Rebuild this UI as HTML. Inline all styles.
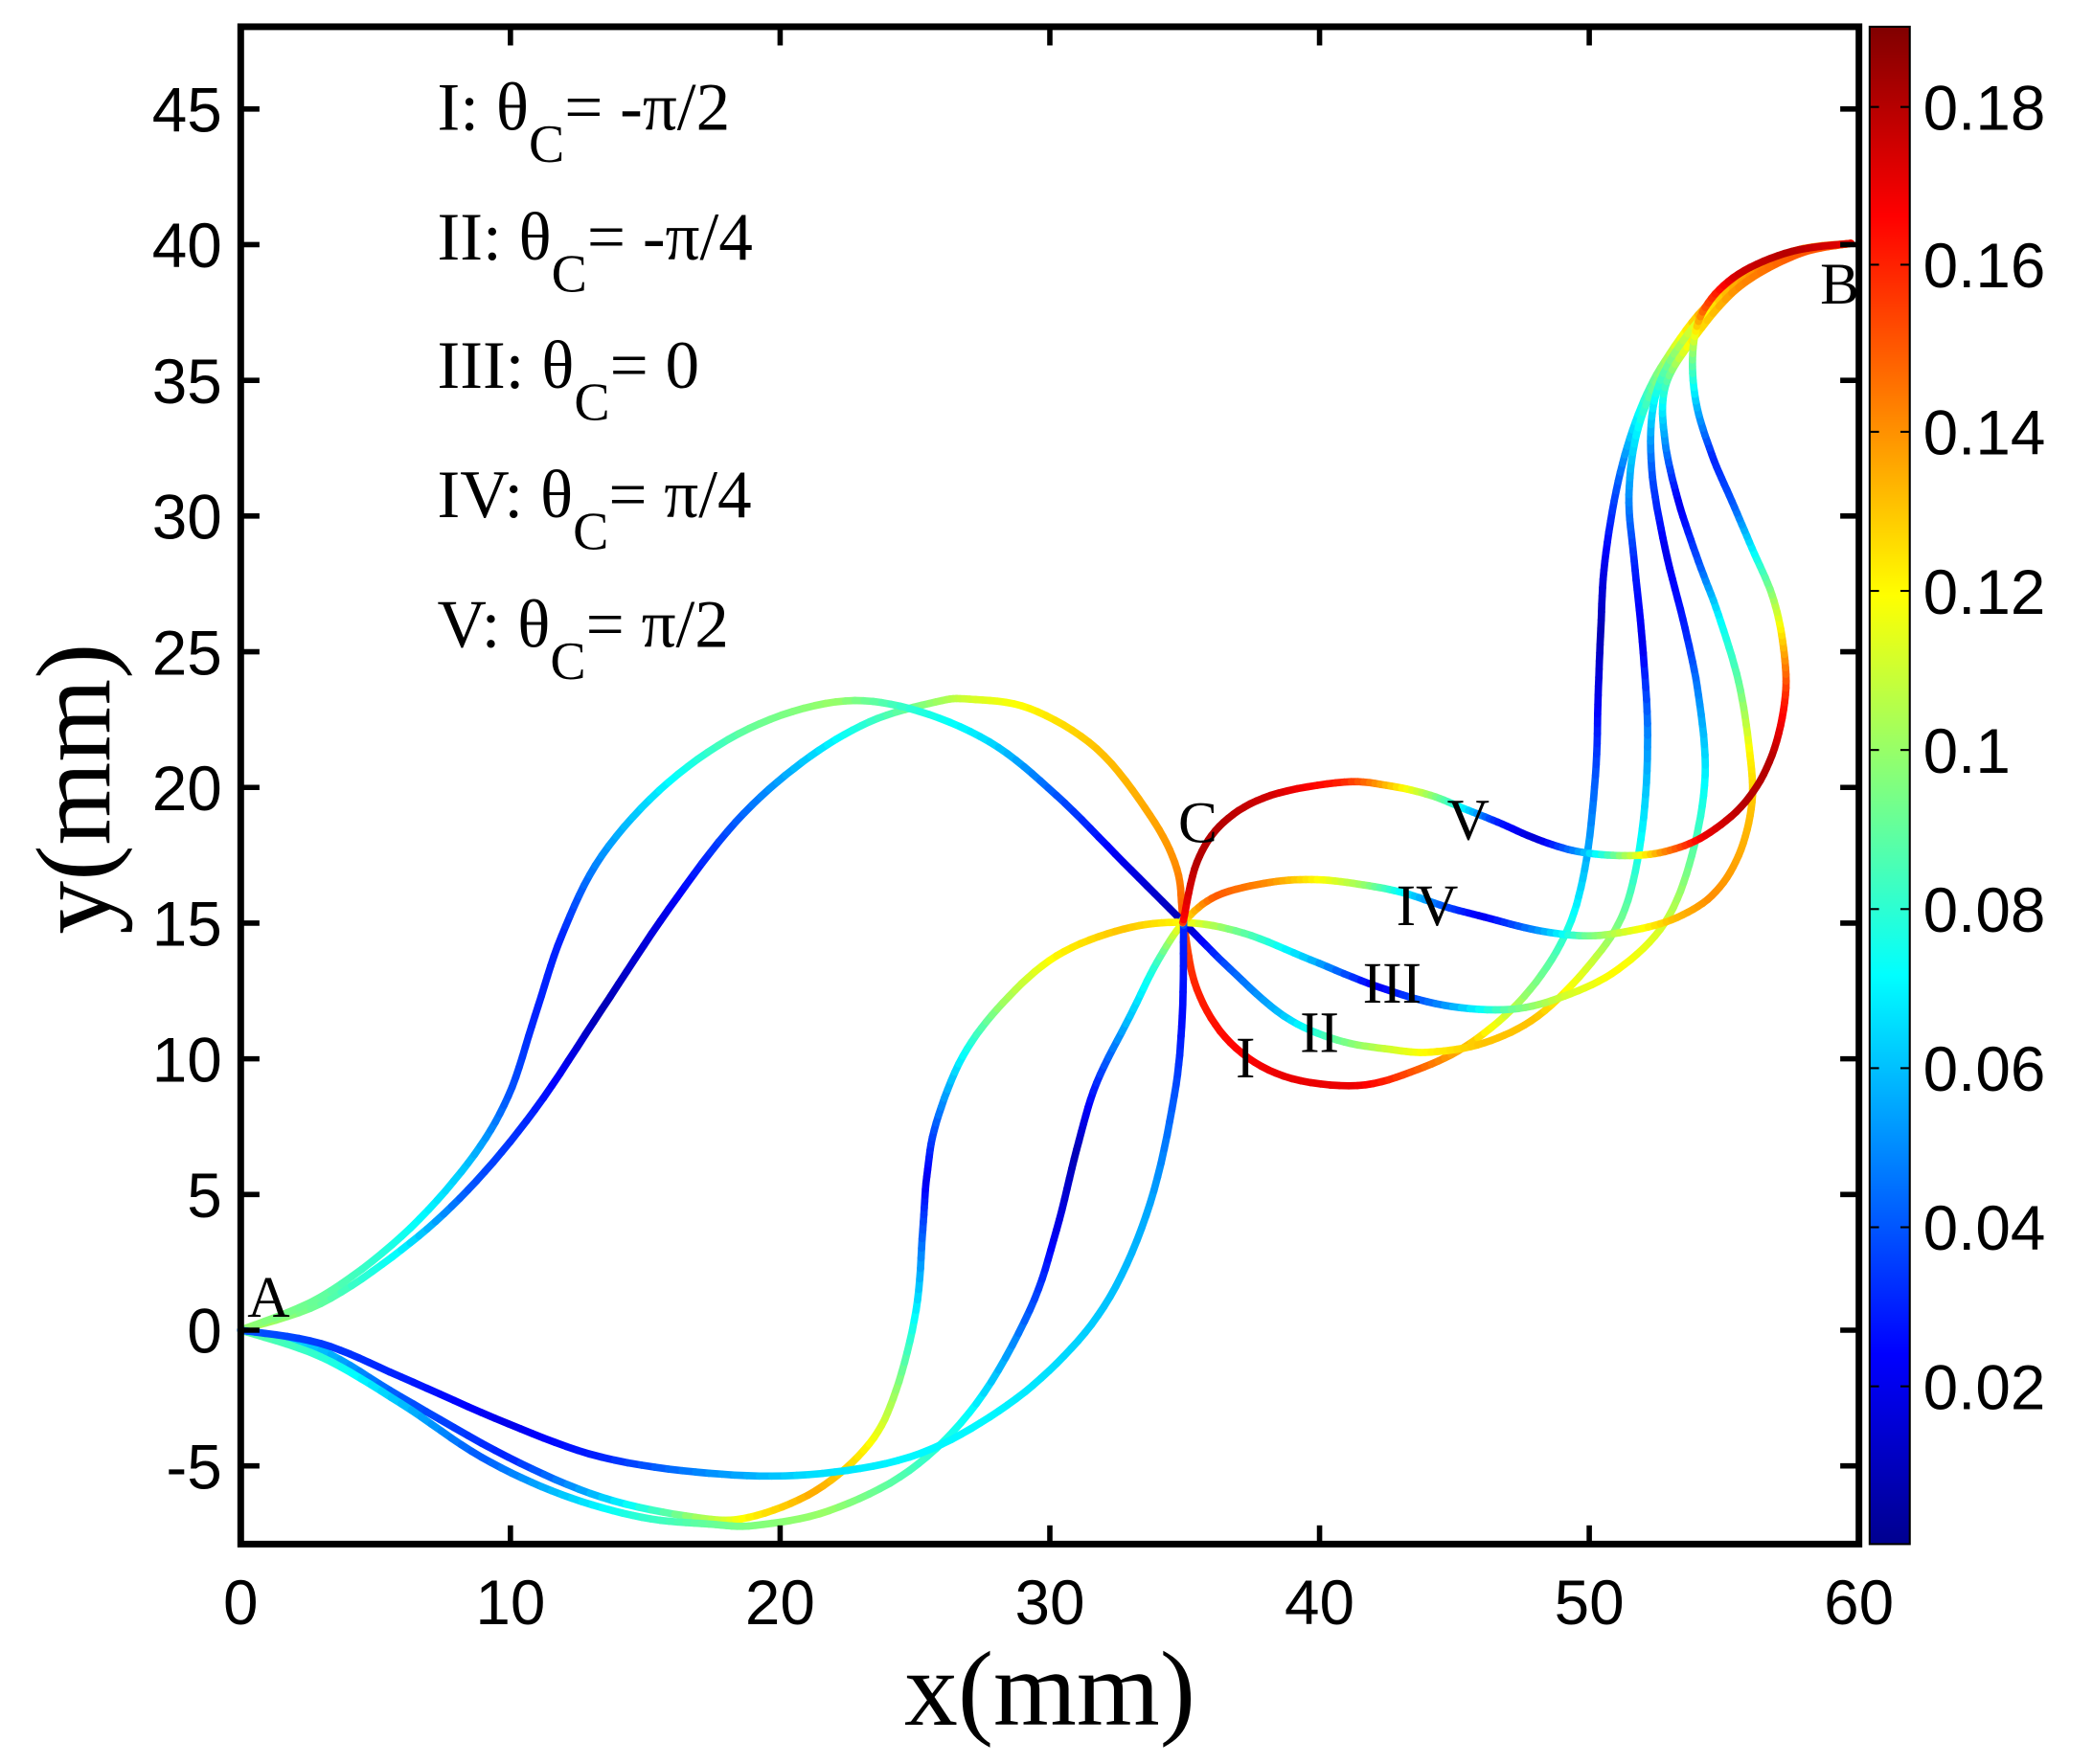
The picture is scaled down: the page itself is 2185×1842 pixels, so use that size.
<!DOCTYPE html>
<html><head><meta charset="utf-8"><style>
html,body{margin:0;padding:0;background:#fff;}
svg{display:block;}
.s{font-family:"Liberation Sans",sans-serif;font-size:47px;fill:#000;}
.r{font-family:"Liberation Serif",serif;fill:#000;}
</style></head><body>
<svg id="g" width="2185" height="1842" viewBox="0 0 1565 1319.5" preserveAspectRatio="none" xmlns="http://www.w3.org/2000/svg">
<defs>
<linearGradient id="jet" x1="0" y1="1" x2="0" y2="0">
<stop offset="0" stop-color="#00008f"/>
<stop offset="0.125" stop-color="#0000ff"/>
<stop offset="0.375" stop-color="#00ffff"/>
<stop offset="0.625" stop-color="#ffff00"/>
<stop offset="0.875" stop-color="#ff0000"/>
<stop offset="1" stop-color="#800000"/>
</linearGradient>
</defs>
<rect x="0" y="0" width="1565" height="1320" fill="#fff"/>
<g id="curves"></g>
<rect x="180" y="20" width="1210" height="1135" fill="none" stroke="#000" stroke-width="5"/>
<g id="ticks" stroke="#000" stroke-width="4"></g>
<rect x="1398" y="20" width="30" height="1135" fill="url(#jet)" stroke="#000" stroke-width="1.5"/>
<g id="cbt" stroke="#000" stroke-width="1.5"></g>
<g id="labels"></g>
<g class="r" font-size="51">
<text x="327" y="97">I: θ<tspan font-size="40" dy="24">C</tspan><tspan dy="-24">= -π/2</tspan></text>
<text x="327" y="194">II: θ<tspan font-size="40" dy="24">C</tspan><tspan dy="-24">= -π/4</tspan></text>
<text x="327" y="290">III: θ<tspan font-size="40" dy="24">C</tspan><tspan dy="-24">= 0</tspan></text>
<text x="327" y="387">IV: θ<tspan font-size="40" dy="24">C</tspan><tspan dy="-24">= π/4</tspan></text>
<text x="327" y="484">V: θ<tspan font-size="40" dy="24">C</tspan><tspan dy="-24">= π/2</tspan></text>
</g>
<g class="r" font-size="44">
<text x="185" y="985">A</text>
<text x="881" y="630">C</text>
<text x="1361" y="227">B</text>
<text x="1082" y="628">V</text>
<text x="1044" y="692">IV</text>
<text x="1019" y="750">III</text>
<text x="972" y="787">II</text>
<text x="924" y="806">I</text>
</g>
<text class="r" x="785" y="1290" font-size="80" text-anchor="middle">x(mm)</text>
<text class="r" transform="translate(82,590) rotate(-90)" font-size="80" text-anchor="middle">y(mm)</text>
</svg>
<script>
var NS="http://www.w3.org/2000/svg";
function el(p,t,a,txt){var e=document.createElementNS(NS,t);for(var k in a)e.setAttribute(k,a[k]);if(txt!==undefined)e.textContent=txt;p.appendChild(e);return e;}
function jet(t){t=Math.max(0,Math.min(1,t));function f(x){return Math.max(0,Math.min(1,1.5-Math.abs(4*t-x)));}
var r=f(3),g=f(2),b=f(1);return "rgb("+Math.round(r*255)+","+Math.round(g*255)+","+Math.round(b*255)+")";}
var X0=180,X1=1390,Y0=995,YS=20.3;
var tk=document.getElementById('ticks'),lb=document.getElementById('labels');
for(var v=0;v<=60;v+=10){var x=X0+(X1-X0)*v/60;
 el(tk,'line',{x1:x,y1:1155,x2:x,y2:1141});el(tk,'line',{x1:x,y1:20,x2:x,y2:34});
 el(lb,'text',{x:x,y:1215,'text-anchor':'middle','class':'s'},String(v));}
for(var v=-5;v<=45;v+=5){var y=Y0-YS*v;
 el(tk,'line',{x1:180,y1:y,x2:194,y2:y});el(tk,'line',{x1:1390,y1:y,x2:1376,y2:y});
 el(lb,'text',{x:166,y:y+17,'text-anchor':'end','class':'s'},String(v));}
var cb=document.getElementById('cbt');
var cbv=[[0.02,1037],[0.04,918],[0.06,799],[0.08,680],[0.1,561],[0.12,442],[0.14,323],[0.16,198],[0.18,80]];
cbv.forEach(function(c){el(cb,'line',{x1:1398,y1:c[1],x2:1405,y2:c[1]});el(cb,'line',{x1:1421,y1:c[1],x2:1428,y2:c[1]});
 el(lb,'text',{x:1438,y:c[1]+17,'class':'s'},String(c[0]));});
var C=[
[[180,995,.11],[240,975,.09],[300,935,.07],[350,890,.04],[400,830,.03],[450,755,.01],[500,680,.02],[550,615,.04],[600,570,.06],[650,540,.08],[700,525,.1],[725,523,.11],[770,530,.12],[820,560,.13],[860,610,.135],[880,650,.14],[885,690,.15],[895,740,.16],[920,780,.165],[960,805,.17],[1015,812,.17],[1060,800,.15],[1100,780,.13],[1140,745,.1],[1170,700,.08],[1185,650,.06],[1193,580,.04],[1195,520,.02],[1197,470,.01],[1200,420,.02],[1210,360,.04],[1225,310,.07],[1245,270,.1],[1280,225,.14],[1330,192,.15],[1384,182,.14]],
[[180,995,.1],[240,970,.09],[300,925,.075],[350,870,.06],[380,820,.04],[400,760,.03],[420,700,.03],[450,640,.05],[500,585,.07],[560,545,.09],[625,525,.1],[680,530,.08],[740,555,.065],[790,595,.04],[840,645,.02],[885,690,.01],[920,725,.04],[960,760,.06],[1000,778,.09],[1040,785,.11],[1070,787,.12],[1110,780,.13],[1150,760,.13],[1190,720,.11],[1215,680,.09],[1228,620,.07],[1232,550,.05],[1228,480,.02],[1222,420,.03],[1218,370,.05],[1225,320,.07],[1245,275,.1],[1285,225,.13],[1335,190,.14],[1384,182,.14]],
[[180,995,.07],[240,1010,.06],[300,1045,.04],[380,1090,.03],[450,1120,.06],[520,1135,.1],[560,1135,.12],[610,1115,.135],[650,1080,.12],[670,1040,.1],[685,980,.07],[690,920,.04],[693,880,.02],[700,840,.04],[720,790,.07],[750,750,.1],[790,715,.12],[840,695,.13],[885,690,.12],[930,698,.09],[980,718,.06],[1030,738,.02],[1080,752,.05],[1130,755,.09],[1170,745,.11],[1210,725,.12],[1245,690,.11],[1265,640,.09],[1275,580,.07],[1270,520,.05],[1260,470,.03],[1245,410,.02],[1235,350,.04],[1237,300,.07],[1255,260,.1],[1290,220,.13],[1340,190,.15],[1384,182,.15]],
[[180,995,.09],[240,1015,.08],[300,1050,.06],[360,1090,.04],[420,1118,.06],[480,1135,.08],[530,1140,.09],[565,1141,.095],[620,1130,.1],[680,1100,.085],[730,1050,.07],[770,980,.04],[790,920,.02],[805,860,.01],[820,810,.03],[845,760,.06],[865,720,.08],[885,690,.12],[910,670,.15],[950,660,.14],[985,658,.12],[1020,662,.1],[1050,668,.07],[1080,678,.04],[1110,686,.02],[1150,696,.05],[1185,700,.09],[1215,697,.11],[1250,688,.13],[1280,670,.14],[1300,640,.135],[1310,600,.13],[1308,560,.12],[1300,510,.09],[1285,460,.07],[1270,420,.04],[1255,375,.02],[1245,330,.05],[1245,290,.08],[1265,255,.12],[1300,215,.14],[1345,190,.15],[1384,182,.15]],
[[180,995,.04],[240,1005,.035],[300,1030,.03],[380,1065,.02],[450,1090,.03],[530,1102,.05],[605,1103,.065],[680,1090,.07],[740,1060,.07],[790,1020,.065],[830,970,.06],[860,900,.055],[878,820,.04],[884,760,.025],[885,692,.03],[885,688,.165],[895,645,.18],[915,615,.18],[950,595,.175],[1005,585,.16],[1040,588,.13],[1070,595,.1],[1095,605,.07],[1120,615,.03],[1150,628,.015],[1180,637,.05],[1215,640,.1],[1245,637,.14],[1275,625,.17],[1305,600,.18],[1325,565,.18],[1335,520,.16],[1333,480,.13],[1325,445,.1],[1310,410,.07],[1295,375,.04],[1280,340,.03],[1268,300,.06],[1266,260,.1],[1275,230,.15],[1300,205,.175],[1340,188,.18],[1384,182,.17]]
];
var g=document.getElementById('curves');
C.forEach(function(P){
 var n=P.length,pts=[];
 for(var i=0;i<n-1;i++){
  var p0=P[Math.max(0,i-1)],p1=P[i],p2=P[i+1],p3=P[Math.min(n-1,i+2)];
  for(var s=0;s<8;s++){var t=s/8,t2=t*t,t3=t2*t;
   var x=0.5*((2*p1[0])+(-p0[0]+p2[0])*t+(2*p0[0]-5*p1[0]+4*p2[0]-p3[0])*t2+(-p0[0]+3*p1[0]-3*p2[0]+p3[0])*t3);
   var y=0.5*((2*p1[1])+(-p0[1]+p2[1])*t+(2*p0[1]-5*p1[1]+4*p2[1]-p3[1])*t2+(-p0[1]+3*p1[1]-3*p2[1]+p3[1])*t3);
   pts.push([x,y,p1[2]+(p2[2]-p1[2])*t]);}
 }
 pts.push(P[n-1]);
 for(var i=0;i<pts.length-1;i++){
  var a=pts[i],b=pts[i+1];
  el(g,'line',{x1:a[0].toFixed(1),y1:a[1].toFixed(1),x2:b[0].toFixed(1),y2:b[1].toFixed(1),stroke:jet((a[2]+b[2])/2/0.19),'stroke-width':5.5,'stroke-linecap':'round'});
 }
});
</script>
</body></html>
